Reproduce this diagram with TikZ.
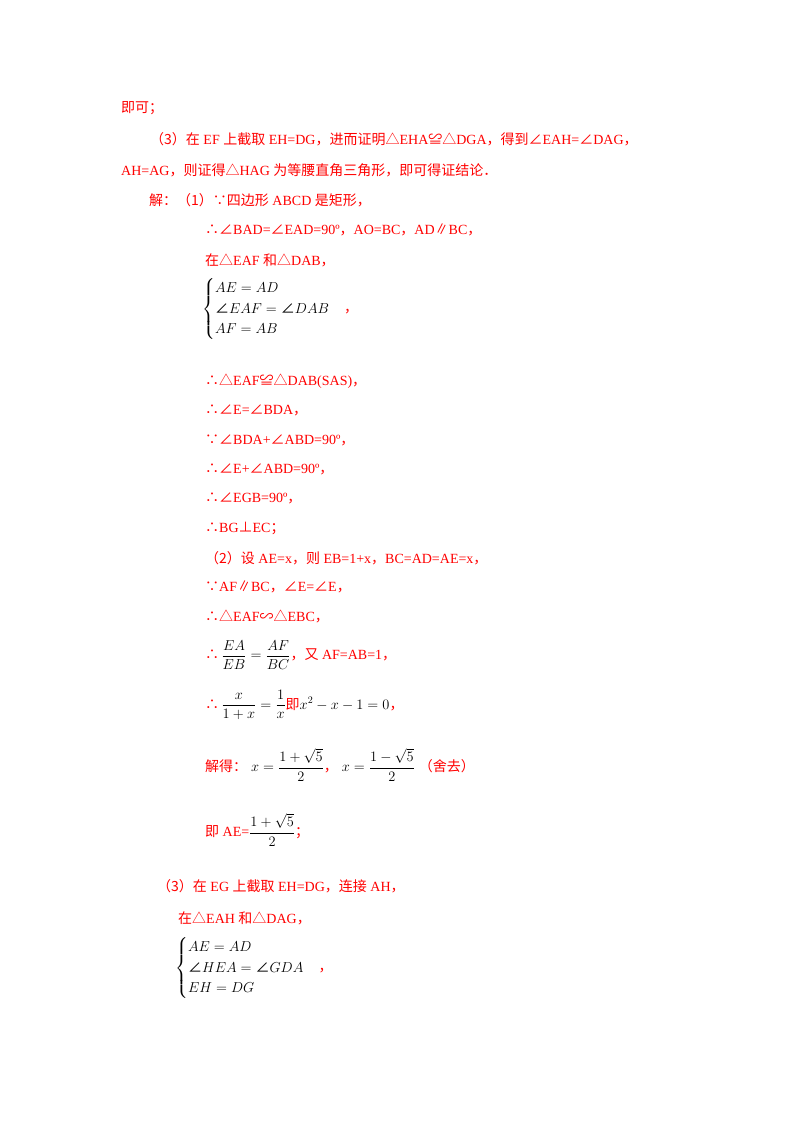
\documentclass[tikz,border=0pt]{standalone}
\usepackage{amsmath}
\usepackage{fontspec}
\setmainfont{Liberation Serif}
\newfontfamily\cjk{Noto Sans CJK SC}
\newcommand{\zh}[1]{{\cjk #1}}
\newcommand{\ang}{\mathord{\mbox{\cjk ∠}}}
\begin{document}
\begin{tikzpicture}[x=1pt,y=-1pt,
  ln/.style={anchor=west,inner sep=0pt,text=red,font=\fontsize{14}{17}\selectfont}]
\useasboundingbox (0,0) rectangle (800,1132);
\node[ln] (a1) at (121,108) {\zh{即可；}};
\node[ln] (a2) at (150,139) {\zh{（3）在} EF \zh{上截取} EH=DG\zh{，进而证明△}EHA\zh{≌△}DGA\zh{，得到∠}EAH=\zh{∠}DAG\zh{，}};
\node[ln] (a3) at (121,170) {AH=AG\zh{，则证得△}HAG \zh{为等腰直角三角形，即可得证结论．}};
\node[ln] (a4) at (149,200) {\zh{解：（1）∵四边形} ABCD \zh{是矩形，}};
\node[ln] (a5) at (205,230) {\zh{∴∠}BAD=\zh{∠}EAD=90º\zh{，}AO=BC\zh{，}AD\zh{∥}BC\zh{，}};
\node[ln] (a6) at (205,260) {\zh{在△}EAF \zh{和△}DAB\zh{，}};
\node[ln] (a7) at (202,309) {\textcolor{black}{$\begin{cases}AE=AD\\ \ang EAF=\ang DAB\\ AF=AB\end{cases}$}\zh{，}};
\node[ln] (a8) at (205,381) {\zh{∴△}EAF\zh{≌△}DAB(SAS)\zh{，}};
\node[ln] (a9) at (205,410) {\zh{∴∠}E=\zh{∠}BDA\zh{，}};
\node[ln] (a10) at (205,440) {\zh{∵∠}BDA+\zh{∠}ABD=90º\zh{，}};
\node[ln] (a11) at (205,469) {\zh{∴∠}E+\zh{∠}ABD=90º\zh{，}};
\node[ln] (a12) at (205,498) {\zh{∴∠}EGB=90º\zh{，}};
\node[ln] (a13) at (205,528) {\zh{∴}BG\zh{⊥}EC\zh{；}};
\node[ln] (a14) at (205,558) {\zh{（2）设} AE=x\zh{，则} EB=1+x\zh{，}BC=AD=AE=x\zh{，}};
\node[ln] (a15) at (205,587) {\zh{∵}AF\zh{∥}BC\zh{，∠}E=\zh{∠}E\zh{，}};
\node[ln] (a16) at (205,616) {\zh{∴△}EAF\zh{∽△}EBC\zh{，}};
\node[ln] (a17) at (205,655) {\zh{∴}\,\textcolor{black}{$\dfrac{EA}{EB}=\dfrac{AF}{BC}$}\zh{，又} AF=AB=1\zh{，}};
\node[ln] (a18) at (205,705) {\zh{∴}\,\textcolor{black}{$\dfrac{x}{1+x}=\dfrac{1}{x}$}\zh{即}\textcolor{black}{$x^2-x-1=0$}\zh{，}};
\node[ln] (a19) at (205,765) {\zh{解得：}\;\textcolor{black}{$x=\dfrac{1+\sqrt5}{2}$}\zh{，}\;\textcolor{black}{$x=\dfrac{1-\sqrt5}{2}$}\;\zh{（舍去）}};
\node[ln] (a20) at (205,830) {\zh{即} AE=\textcolor{black}{$\dfrac{1+\sqrt5}{2}$}\zh{；}};
\node[ln] (a21) at (157,886) {\zh{（3）在} EG \zh{上截取} EH=DG\zh{，连接} AH\zh{，}};
\node[ln] (a22) at (178,918) {\zh{在△}EAH \zh{和△}DAG\zh{，}};
\node[ln] (a23) at (175,968) {\textcolor{black}{$\begin{cases}AE=AD\\ \ang HEA=\ang GDA\\ EH=DG\end{cases}$}\zh{，}};
\end{tikzpicture}
\end{document}
